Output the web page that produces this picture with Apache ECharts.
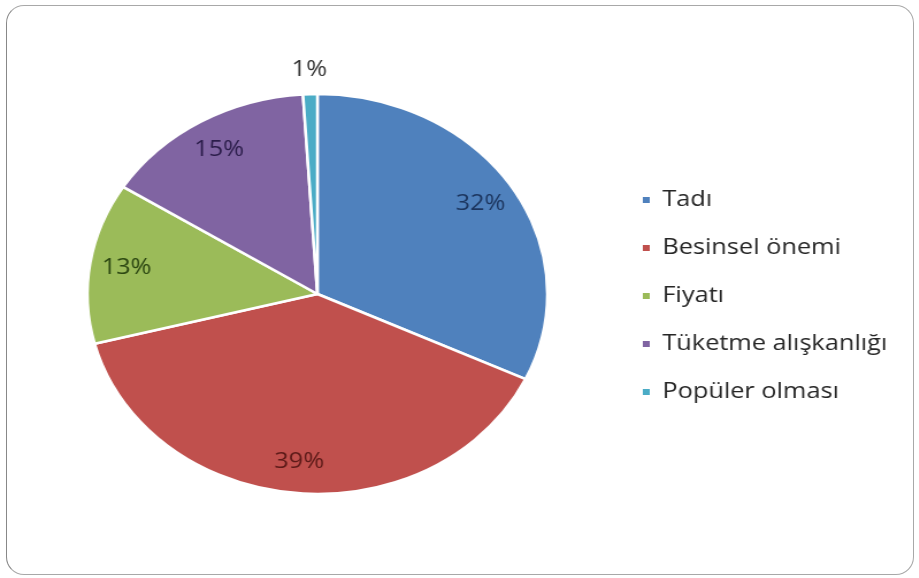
<!DOCTYPE html>
<html>
<head>
<meta charset="utf-8">
<script src="https://cdn.jsdelivr.net/npm/echarts@6/dist/echarts.min.js"></script>
<style>
    html, body { margin: 0; padding: 0; background: #fff; }
    #frame {
        position: absolute; left: 6px; top: 5px; width: 906px; height: 568px;
        border: 1px solid #a8a8a8; border-left-color: #888; border-radius: 18px;
    }
    #main {
        position: absolute; left: 0; top: 0; width: 799px; height: 578px;
        transform: scaleX(1.15); transform-origin: 0 0;
    }
</style>
</head>
<body>
<div id="frame"></div>
<div id="main"></div>
<script>
// veriler
var categories = ['Tadı', 'Besinsel önemi', 'Fiyatı', 'Tüketme alışkanlığı', 'Popüler olması'];
var values = [32, 39, 13, 15, 1];

var colors = ['#4F81BD', '#C0504D', '#9BBB59', '#8064A2', '#4BACC6'];
var labelColors = ['#1c355e', '#5c1a18', '#2c4712', '#2b1d4a', '#333333'];

var myChart = echarts.init(document.getElementById('main'));

var center = [276, 294];

// ana dilimler
var mainData = categories.map(function (name, i) {
    return { name: name, value: values[i], itemStyle: { color: colors[i] } };
});

// etiket halkasi (ic etiketler)
var innerLabelData = categories.map(function (name, i) {
    return {
        name: name, value: values[i],
        label: { show: i !== 4, color: labelColors[i] }
    };
});

// dis etiket (1%)
var outerLabelData = categories.map(function (name, i) {
    return {
        name: name, value: values[i],
        label: { show: i === 4, color: labelColors[i] }
    };
});

var labelFont = {
    position: 'inside',
    formatter: '{c}%',
    fontFamily: 'Open Sans',
    fontWeight: 500,
    fontSize: 22
};

let option = {
    animation: false,
    legend: {
        orient: 'vertical',
        left: 557,
        top: 188,
        padding: 0,
        icon: 'rect',
        itemWidth: 8,
        itemHeight: 8,
        itemGap: 24,
        data: categories,
        textStyle: {
            color: '#262626',
            fontFamily: 'Open Sans',
            fontWeight: 500,
            fontSize: 22,
            lineHeight: 24,
            padding: [0, 0, 0, 5]
        }
    },
    series: [
        {
            name: 'main',
            type: 'pie',
            center: center,
            radius: [0, 200],
            startAngle: 90,
            clockwise: true,
            itemStyle: { borderColor: '#fff', borderWidth: 2.5 },
            label: { show: false },
            labelLine: { show: false },
            data: mainData
        },
        {
            name: 'labelsIn',
            type: 'pie',
            silent: true,
            center: center,
            radius: [130, 200],
            startAngle: 90,
            itemStyle: { color: 'rgba(0,0,0,0)' },
            label: labelFont,
            labelLine: { show: false },
            data: innerLabelData
        },
        {
            name: 'labelsOut',
            type: 'pie',
            silent: true,
            center: center,
            radius: [206, 236],
            startAngle: 90,
            itemStyle: { color: 'rgba(0,0,0,0)' },
            label: labelFont,
            labelLine: { show: false },
            data: outerLabelData
        }
    ]
};

myChart.setOption(option);
</script>
</body>
</html>
